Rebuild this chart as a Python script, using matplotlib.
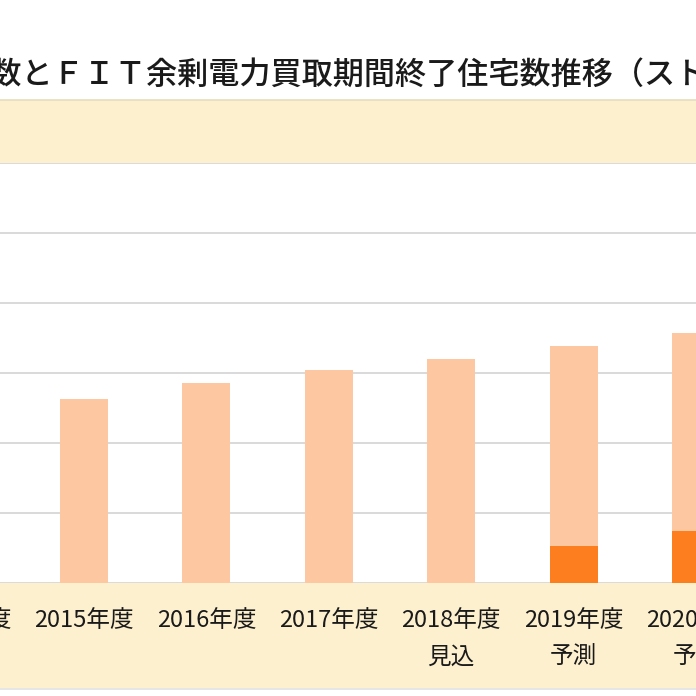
import matplotlib.pyplot as plt
from matplotlib.patches import Rectangle
from matplotlib.transforms import blended_transform_factory

plt.rcParams['font.family'] = ['Noto Sans CJK JP', 'DejaVu Sans']

# stock of houses with PV (万件), split into FIT-running and FIT-expired
years = ["2014年度", "2015年度", "2016年度", "2017年度", "2018年度\n見込",
         "2019年度\n予測", "2020年度\n予測"]
fit_running = [240, 263, 286, 304, 320, 286, 282]
fit_expired = [0, 0, 0, 0, 0, 53, 75]
title = "設置戸数とＦＩＴ余剰電力買取期間終了住宅数推移（ストックベース）"

W = 696.0
fig = plt.figure(figsize=(6.96, 6.96), dpi=100)

def fy(px):
    return 1 - px / W

# beige bands (legend strip on top, category strip below)
fig.patches.append(Rectangle((0, fy(163)), 1, fy(100) - fy(163), transform=fig.transFigure,
                             facecolor="#fdf0cf", edgecolor="none", zorder=-2))
fig.patches.append(Rectangle((0, fy(688)), 1, fy(583) - fy(688), transform=fig.transFigure,
                             facecolor="#fdf0cf", edgecolor="none", zorder=-2))
fig.add_artist(plt.Line2D([0, 1], [fy(100), fy(100)], transform=fig.transFigure,
                          color="#e6dcc0", lw=1.2, zorder=-1))
fig.add_artist(plt.Line2D([0, 1], [fy(689), fy(689)], transform=fig.transFigure,
                          color="#e2e2e2", lw=1.2, zorder=-1))

fig.text(-102 / W, fy(75), title, fontsize=22.4, ha="left", va="center",
         color="#1a1a1a", fontweight="medium")

ax = fig.add_axes([0, fy(583), 1, fy(163) - fy(583)])
ax.set_facecolor("white")
x = list(range(len(years)))
ax.bar(x, fit_expired, width=0.392, color="#fd7e1f", zorder=3)
ax.bar(x, fit_running, width=0.392, bottom=fit_expired, color="#fdc8a1", zorder=3)

ax.set_xlim(0.314, 6.0)
ax.set_ylim(0, 600)
for g in range(0, 601, 100):
    ax.axhline(g, color="#d9d9d9", lw=1.4, zorder=1)
for s in ax.spines.values():
    s.set_visible(False)
ax.set_xticks([])
ax.set_yticks([])

trans = blended_transform_factory(ax.transData, ax.transAxes)
for xi, lab in zip(x, years):
    ax.text(xi, -26 / 420, lab, transform=trans, ha="center", va="top", fontsize=17,
            linespacing=1.75, color="#1a1a1a", clip_on=False)

fig.savefig("out.png", dpi=100)
